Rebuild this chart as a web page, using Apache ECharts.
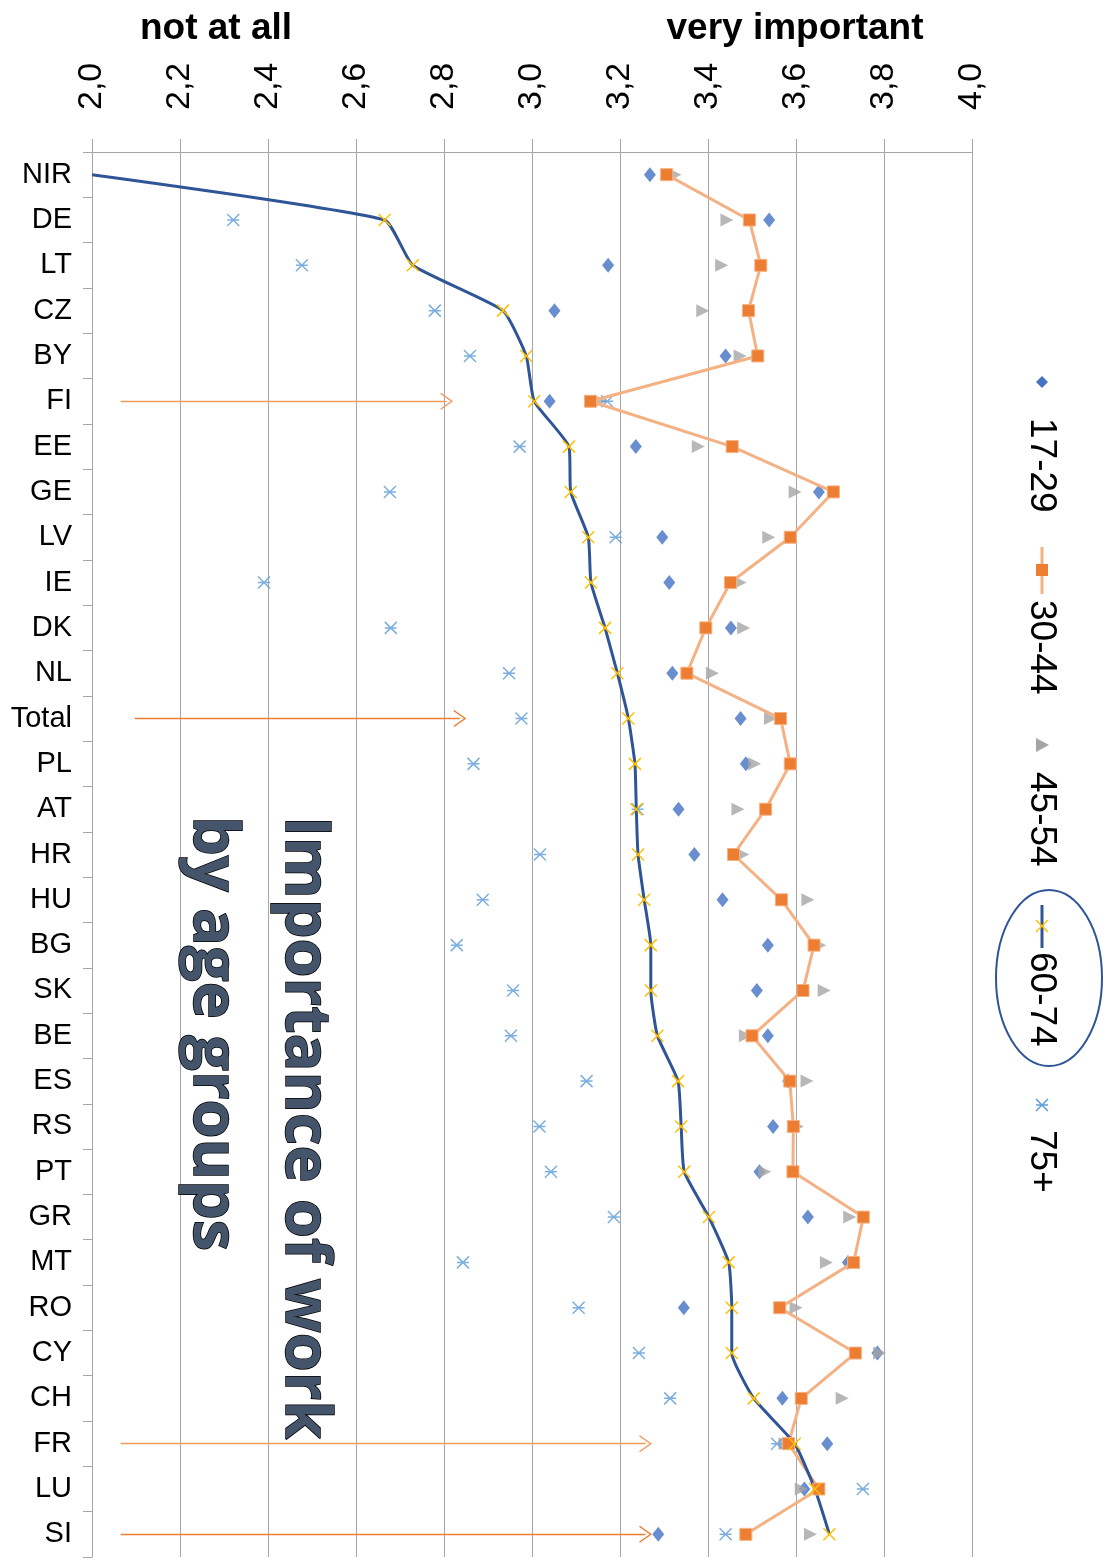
<!DOCTYPE html>
<html>
<head>
<meta charset="utf-8">
<title>Importance of work by age groups</title>
<script src="https://cdn.jsdelivr.net/npm/echarts@6/dist/echarts.min.js"></script>
<style>
  html, body { margin: 0; padding: 0; background: #fff; }
  #chart { width: 1112px; height: 1567px; }
</style>
</head>
<body>
<div id="chart"></div>
<script>
// categories, top to bottom
const countries = ['NIR', 'DE', 'LT', 'CZ', 'BY', 'FI', 'EE', 'GE', 'LV', 'IE', 'DK', 'NL', 'Total', 'PL', 'AT', 'HR',
  'HU', 'BG', 'SK', 'BE', 'ES', 'RS', 'PT', 'GR', 'MT', 'RO', 'CY', 'CH', 'FR', 'LU', 'SI']

// mean importance per age group
const age17to29 = [3.268, 3.539, 3.173, 3.051, 3.44, 3.04, 3.236, 3.652, 3.296, 3.312, 3.452, 3.319, 3.474, 3.486, 3.333, 3.369,
  3.433, 3.536, 3.511, 3.536, 3.582, 3.548, 3.517, 3.627, 3.718, 3.345, 3.785, 3.569, 3.671, 3.619, 3.287]
const age30to44 = [3.306, 3.494, 3.52, 3.492, 3.513, 3.133, 3.455, 3.685, 3.587, 3.451, 3.395, 3.352, 3.565, 3.587, 3.531, 3.458,
  3.567, 3.641, 3.616, 3.5, 3.586, 3.594, 3.593, 3.753, 3.731, 3.563, 3.735, 3.612, 3.583, 3.652, 3.486]
const age45to54 = [3.325, 3.443, 3.431, 3.388, 3.473, 3.156, 3.378, 3.598, 3.538, 3.473, 3.481, 3.41, 3.542, 3.506, 3.468, 3.479,
  3.627, 3.654, 3.664, 3.485, 3.625, 3.603, 3.529, 3.722, 3.669, 3.6, 3.79, 3.705, 3.575, 3.612, 3.633]
const age60to74 = [2.0, 2.665, 2.729, 2.934, 2.987, 3.005, 3.084, 3.088, 3.128, 3.134, 3.166, 3.194, 3.219, 3.234, 3.237, 3.241,
  3.255, 3.27, 3.27, 3.285, 3.332, 3.339, 3.346, 3.402, 3.447, 3.454, 3.454, 3.504, 3.597, 3.643, 3.676]
const age75plus = [null, 2.321, 2.477, 2.779, 2.859, 3.171, 2.972, 2.677, 3.19, 2.391, 2.679, 2.948, 2.976, 2.867, 3.24, 3.018,
  2.888, 2.829, 2.957, 2.952, 3.124, 3.017, 3.043, 3.186, 2.843, 3.106, 3.243, 3.314, 3.557, 3.752, 3.44]

const groupNames = ['17-29', '30-44', '45-54', '60-74', '75+']

// axis
const axisMin = 2.0
const axisMax = 4.0
const axisStep = 0.2

// hand drawn arrows
const arrowRows = ['FI', 'Total', 'FR', 'SI']
const arrowFrom = [2.065, 2.097, 2.065, 2.065]
const arrowTo = [2.806, 2.836, 3.258, 3.258]
const arrowColors = ['#F19A5E', '#ED7D31', '#F19A5E', '#ED7D31']

const FONT = '"Liberation Sans", Arial, sans-serif'
const gridColor = '#A6A6A6'
const crossPath = 'path://M0,0L10,10M10,0L0,10'
const starPath = 'path://M0,0L10,10M10,0L0,10M0,5L10,5'
const openArrow = 'path://M0,0L10,13L8.8,14L0,2.6L-8.8,14L-10,13Z'

function pairs(values) {
  return values
    .map((v, i) => [v, countries[i]])
    .filter((p) => p[0] !== null)
}

// excel hides markers that sit on the plot edge
function edgeHidden(values) {
  return pairs(values).map((p) => (p[0] <= axisMin ? { value: p, symbol: 'none' } : p))
}

const chart = echarts.init(document.getElementById('chart'))

function legendText(y, label) {
  return {
    type: 'text',
    x: 1041,
    y: y,
    rotation: -Math.PI / 2,
    style: {
      text: label,
      font: '37px ' + FONT,
      fill: '#000',
      textAlign: 'left',
      textVerticalAlign: 'middle'
    }
  }
}

chart.setOption({
  animation: false,
  backgroundColor: '#fff',
  grid: { left: 92, top: 152, width: 880, height: 1405 },
  xAxis: {
    type: 'value',
    position: 'top',
    min: axisMin,
    max: axisMax,
    interval: axisStep,
    axisLine: { show: true, lineStyle: { color: gridColor } },
    axisTick: { show: true, length: 13, lineStyle: { color: gridColor } },
    axisLabel: {
      rotate: -90,
      margin: 42,
      fontSize: 34,
      color: '#000',
      fontFamily: FONT,
      formatter: (v) => v.toFixed(1).replace('.', ',')
    },
    splitLine: { show: true, lineStyle: { color: gridColor, width: 1 } }
  },
  yAxis: {
    type: 'category',
    inverse: true,
    data: countries,
    axisLine: { show: true, onZero: false, lineStyle: { color: gridColor } },
    axisTick: { show: true, length: 9, lineStyle: { color: gridColor } },
    axisLabel: { fontSize: 29, color: '#000', margin: 20, fontFamily: FONT },
    splitLine: { show: false }
  },
  series: [
    {
      name: groupNames[0],
      type: 'scatter',
      data: pairs(age17to29),
      symbol: 'diamond',
      symbolSize: [12, 15],
      itemStyle: { color: '#4472C4' },
      markLine: {
        silent: true,
        symbol: ['none', openArrow],
        symbolSize: [17, 13],
        label: { show: false },
        lineStyle: { width: 1.3, type: 'solid' },
        data: arrowRows.map((r, i) => [
          { coord: [arrowFrom[i], r], lineStyle: { color: arrowColors[i] }, itemStyle: { color: arrowColors[i] } },
          { coord: [arrowTo[i], r] }
        ])
      }
    },
    {
      name: groupNames[1],
      type: 'line',
      data: pairs(age30to44),
      symbol: 'rect',
      symbolSize: 12,
      showAllSymbol: true,
      lineStyle: { color: '#F4B183', width: 3 },
      itemStyle: { color: '#ED7D31', borderColor: '#F4B183', borderWidth: 1 }
    },
    {
      name: groupNames[2],
      type: 'scatter',
      data: pairs(age45to54),
      symbol: 'triangle',
      symbolRotate: -90,
      symbolSize: 13,
      itemStyle: { color: '#A5A5A5' }
    },
    {
      name: groupNames[3],
      type: 'line',
      data: edgeHidden(age60to74),
      smooth: 0.15,
      symbol: crossPath,
      symbolSize: 12,
      showAllSymbol: true,
      lineStyle: { color: '#2F5597', width: 3 },
      itemStyle: { color: 'rgba(0,0,0,0)', borderColor: '#FFC000', borderWidth: 1.5 }
    },
    {
      name: groupNames[4],
      type: 'scatter',
      data: pairs(age75plus),
      symbol: starPath,
      symbolSize: 12,
      itemStyle: { color: 'rgba(0,0,0,0)', borderColor: '#5B9BD5', borderWidth: 1.5 }
    }
  ],
  graphic: [
    // headers
    { type: 'text', x: 216, y: 29, style: { text: 'not at all', font: 'bold 37px ' + FONT, fill: '#000', textAlign: 'center', textVerticalAlign: 'middle' } },
    { type: 'text', x: 795, y: 29, style: { text: 'very important', font: 'bold 37px ' + FONT, fill: '#000', textAlign: 'center', textVerticalAlign: 'middle' } },
    // rotated title
    {
      type: 'text',
      x: 258,
      y: 816,
      rotation: -Math.PI / 2,
      z: 10,
      style: {
        text: 'Importance of work\nby age groups',
        font: 'bold 63px "Open Sans", sans-serif',
        fill: '#44546A',
        stroke: '#000',
        lineWidth: 1.5,
        lineHeight: 92,
        textAlign: 'left',
        textVerticalAlign: 'middle'
      }
    },
    // legend, rotated like the chart
    { type: 'polygon', shape: { points: [[1042, 376], [1048, 382], [1042, 388], [1036, 382]] }, style: { fill: '#4472C4' } },
    legendText(418, groupNames[0]),
    { type: 'line', shape: { x1: 1042, y1: 547, x2: 1042, y2: 594 }, style: { stroke: '#F4B183', lineWidth: 3 } },
    { type: 'rect', shape: { x: 1036, y: 564, width: 12, height: 12 }, style: { fill: '#ED7D31' } },
    legendText(600, groupNames[1]),
    { type: 'polygon', shape: { points: [[1036, 738], [1049, 745], [1036, 752]] }, style: { fill: '#A5A5A5' } },
    legendText(772, groupNames[2]),
    { type: 'line', shape: { x1: 1042, y1: 905, x2: 1042, y2: 948 }, style: { stroke: '#2F5597', lineWidth: 3 } },
    { type: 'polyline', shape: { points: [[1036, 920], [1048, 932]] }, style: { stroke: '#FFC000', lineWidth: 1.5 } },
    { type: 'polyline', shape: { points: [[1048, 920], [1036, 932]] }, style: { stroke: '#FFC000', lineWidth: 1.5 } },
    legendText(952, groupNames[3]),
    { type: 'ellipse', shape: { cx: 1049, cy: 978, rx: 53, ry: 88 }, style: { fill: 'none', stroke: '#2F5597', lineWidth: 2 } },
    { type: 'polyline', shape: { points: [[1036, 1099], [1048, 1111]] }, style: { stroke: '#5B9BD5', lineWidth: 1.5 } },
    { type: 'polyline', shape: { points: [[1048, 1099], [1036, 1111]] }, style: { stroke: '#5B9BD5', lineWidth: 1.5 } },
    { type: 'polyline', shape: { points: [[1036, 1105], [1048, 1105]] }, style: { stroke: '#5B9BD5', lineWidth: 1.5 } },
    legendText(1130, groupNames[4])
  ]
})
</script>
</body>
</html>
